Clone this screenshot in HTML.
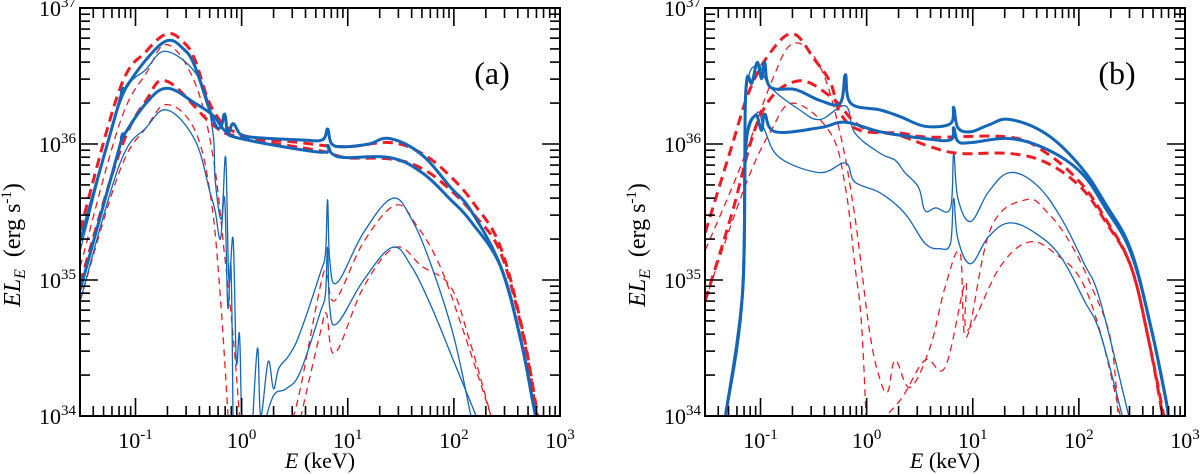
<!DOCTYPE html>
<html><head><meta charset="utf-8"><style>
html,body{margin:0;padding:0;background:#fff;}
svg{display:block;}
text{font-family:"Liberation Serif","Times New Roman",Times,serif;}
</style></head><body>
<svg id="fig" width="1200" height="474" viewBox="0 0 1200 474" xmlns="http://www.w3.org/2000/svg"></svg>
<script>
// ---- data: [log10 E(keV), log10 EL_E], null = gap ----
const xTickExps = [-1, 0, 1, 2, 3];
const yTickExps = [34, 35, 36, 37];
const xRange = [-1.523, 3];
const yRange = [34, 37];
const panelLabels = ["(a)", "(b)"];

const aThickBlueHi = [[-1.52,35.29],[-1.15,36.32],[-1.12,36.38],[-0.90,36.62],[-0.70,36.76],[-0.55,36.70],[-0.44,36.57],[-0.27,36.18],[-0.2,36.12],[-0.16,36.22],[-0.13,36.08],[-0.08,36.15],[-0.01,36.07],[0.1,36.05],[0.55,36.03],[0.76,36.03],[0.81,36.11],[0.85,36.00],[0.98,35.98],[1.20,36.00],[1.40,36.04],[1.70,35.92],[1.97,35.68],[2.16,35.51],[2.44,35.10],[2.63,34.56],[2.74,34.12],[2.77,34.0]];
const aThickBlueLo = [[-1.52,34.93],[-1.15,35.98],[-1.12,36.05],[-0.90,36.30],[-0.70,36.41],[-0.44,36.30],[-0.27,36.21],[-0.16,36.10],[-0.01,36.04],[0.74,35.94],[0.81,35.99],[0.85,35.93],[0.98,35.90],[1.40,35.90],[1.70,35.79],[1.97,35.59],[2.16,35.43],[2.44,35.10],[2.63,34.56],[2.74,34.12],[2.77,34.0]];
const aThickRedHi = [[-1.52,35.37],[-1.15,36.40],[-0.90,36.68],[-0.70,36.81],[-0.55,36.75],[-0.44,36.62],[-0.27,36.25],[-0.01,36.07],[0.55,36.01],[0.98,35.98],[1.40,36.01],[1.70,35.93],[1.97,35.76],[2.20,35.55],[2.44,35.24],[2.65,34.62],[2.79,34.0]];
const aThickRedLo = [[-1.52,34.98],[-1.15,35.94],[-0.90,36.32],[-0.70,36.46],[-0.27,36.14],[-0.01,36.05],[0.74,35.95],[0.98,35.90],[1.40,35.89],[1.70,35.82],[1.97,35.66],[2.20,35.47],[2.44,35.20],[2.65,34.60],[2.78,34.0]];
const aThinBlueHi = [[-1.52,35.22],[-1.15,36.29],[-0.90,36.55],[-0.70,36.68],[-0.39,36.47],[-0.27,36.08],[-0.25,35.74],[-0.19,35.45],[-0.15,35.9],[-0.12,35.0],[-0.08,35.3],[-0.05,34.4],[-0.02,34.6],[0.0,33.9],null,[0.1,33.9],[0.15,34.5],[0.18,34.0],[0.25,34.4],[0.3,34.2],[0.35,34.35],[0.45,34.45],[0.55,34.61],[0.74,35.05],[0.79,35.2],[0.81,35.59],[0.83,35.15],[0.90,34.98],[1.15,35.35],[1.42,35.60],[1.60,35.45],[1.79,35.10],[2.0,34.58],[2.16,34.0]];
const aThinBlueLo = [[-1.52,34.85],[-1.15,35.85],[-0.90,36.12],[-0.70,36.25],[-0.44,36.03],[-0.30,35.65],[-0.25,35.51],[-0.2,35.3],[-0.16,35.6],[-0.13,34.8],[-0.1,35.1],[-0.08,33.9],null,[0.2,33.9],[0.3,34.15],[0.42,34.2],[0.55,34.32],[0.74,34.76],[0.79,34.9],[0.81,35.24],[0.83,34.8],[0.90,34.68],[1.15,35.0],[1.42,35.24],[1.60,35.10],[1.79,34.80],[2.0,34.40],[2.21,34.0]];
const aThinRedHi = [[-1.52,35.10],[-1.15,36.15],[-0.90,36.52],[-0.70,36.73],[-0.44,36.45],[-0.27,35.91],[-0.16,35.18],[-0.08,34.59],[-0.01,33.9],null,[0.45,33.9],[0.55,34.19],[0.74,34.95],[0.80,35.05],[0.88,34.85],[1.15,35.28],[1.45,35.55],[1.65,35.40],[1.87,35.10],[2.1,34.6],[2.35,34.0]];
const aThinRedLo = [[-1.52,34.85],[-1.15,35.80],[-0.90,36.12],[-0.70,36.29],[-0.44,36.10],[-0.29,35.60],[-0.20,34.87],[-0.12,33.9],null,[0.53,33.9],[0.74,34.61],[0.80,34.75],[0.88,34.46],[1.15,34.95],[1.45,35.24],[1.70,35.10],[1.97,34.95],[2.15,34.55],[2.35,34.0]];

const bThickBlueHi = [[-1.33,34.0],[-1.17,34.90],[-1.14,36.36],[-1.08,36.45],[-1.03,36.60],[-0.99,36.48],[-0.96,36.60],[-0.91,36.42],[-0.67,36.40],[-0.44,36.32],[-0.25,36.30],[-0.20,36.51],[-0.15,36.30],[0.13,36.25],[0.32,36.20],[0.55,36.13],[0.79,36.15],[0.82,36.27],[0.86,36.12],[0.98,36.09],[1.15,36.14],[1.35,36.18],[1.70,36.07],[2.02,35.83],[2.25,35.56],[2.49,35.22],[2.68,34.65],[2.82,34.12],[2.84,34.0]];
const bThickBlueLo = [[-1.33,34.0],[-1.17,34.90],[-1.14,35.96],[-1.05,36.21],[-0.99,36.10],[-0.96,36.22],[-0.86,36.09],[-0.44,36.12],[-0.20,36.16],[0.13,36.09],[0.55,36.04],[0.79,36.03],[0.82,36.12],[0.86,36.02],[0.98,36.01],[1.35,36.04],[1.70,35.96],[2.02,35.79],[2.25,35.53],[2.49,35.20],[2.68,34.65],[2.82,34.12],[2.84,34.0]];
const bThickRedHi = [[-1.52,35.35],[-1.28,35.96],[-1.10,36.40],[-0.90,36.68],[-0.69,36.81],[-0.49,36.62],[-0.34,36.45],[-0.25,36.23],[-0.06,36.10],[0.32,36.08],[0.60,36.05],[1.35,36.05],[1.70,35.93],[2.02,35.71],[2.25,35.45],[2.49,35.10],[2.66,34.55],[2.79,34.0]];
const bThickRedLo = [[-1.52,34.85],[-1.28,35.46],[-1.00,36.21],[-0.67,36.46],[-0.34,36.35],[-0.06,36.13],[0.32,36.06],[0.60,35.98],[0.88,35.93],[1.35,35.93],[1.70,35.86],[2.02,35.68],[2.25,35.43],[2.49,35.10],[2.66,34.55],[2.80,34.0]];
const bThinBlueHi = [[-1.33,34.0],[-1.17,34.90],[-1.14,36.30],[-1.03,36.58],[-0.91,36.42],[-0.63,36.25],[-0.44,36.18],[-0.20,36.28],[-0.11,36.08],[0.13,35.93],[0.27,35.88],[0.36,35.79],[0.49,35.68],[0.55,35.51],[0.65,35.53],[0.79,35.53],[0.82,35.93],[0.86,35.60],[0.98,35.43],[1.15,35.65],[1.35,35.79],[1.60,35.70],[1.83,35.46],[2.05,35.12],[2.20,34.85],[2.47,34.0]];
const bThinBlueLo = [[-1.33,34.0],[-1.17,34.90],[-1.14,35.93],[-1.03,36.23],[-0.96,36.10],[-0.82,35.90],[-0.44,35.79],[-0.20,35.86],[-0.11,35.72],[0.13,35.64],[0.36,35.49],[0.55,35.27],[0.69,35.23],[0.79,35.27],[0.82,35.60],[0.86,35.30],[0.98,35.12],[1.15,35.32],[1.35,35.42],[1.60,35.34],[1.83,35.17],[2.05,34.85],[2.20,34.61],[2.41,34.0]];
const bThinRedHi = [[-1.52,35.22],[-1.19,35.83],[-0.90,36.45],[-0.69,36.74],[-0.44,36.57],[-0.25,36.08],[-0.11,35.46],[0.03,34.61],[0.13,34.26],[0.20,34.18],[0.27,34.41],[0.41,34.21],[0.60,34.51],[0.74,34.95],[0.88,35.20],[0.94,34.58],[1.17,35.38],[1.50,35.59],[1.70,35.50],[1.92,35.27],[2.12,34.95],[2.30,34.56],[2.37,34.0]];
const bThinRedLo = [[-1.52,34.85],[-1.15,35.68],[-0.90,36.10],[-0.69,36.30],[-0.34,36.08],[-0.20,35.68],[-0.11,35.10],[-0.05,34.70],[0.0,33.9],null,[0.05,33.9],[0.32,34.12],[0.55,34.41],[0.74,34.36],[0.93,34.98],[0.95,34.63],[1.26,35.10],[1.54,35.28],[1.80,35.18],[2.02,35.0],[2.20,34.62],[2.39,34.0]];

const BLUE = "#1466b8", RED = "#ee1c24";
const NS = "http://www.w3.org/2000/svg";
const svg = document.getElementById("fig");
function mk(tag, attrs, parent){
  const e = document.createElementNS(NS, tag);
  for (const k in attrs) e.setAttribute(k, attrs[k]);
  (parent||svg).appendChild(e); return e;
}
function smoothPath(pts){
  let d = "M" + pts[0][0].toFixed(1) + "," + pts[0][1].toFixed(1);
  const t = 0.18;
  for (let i = 0; i < pts.length - 1; i++) {
    const p0 = pts[Math.max(0,i-1)], p1 = pts[i], p2 = pts[i+1], p3 = pts[Math.min(pts.length-1,i+2)];
    const c1 = [p1[0] + (p2[0]-p0[0])*t, p1[1] + (p2[1]-p0[1])*t];
    const c2 = [p2[0] - (p3[0]-p1[0])*t, p2[1] - (p3[1]-p1[1])*t];
    d += "C" + c1[0].toFixed(1) + "," + c1[1].toFixed(1) + " " + c2[0].toFixed(1) + "," + c2[1].toFixed(1) + " " + p2[0].toFixed(1) + "," + p2[1].toFixed(1);
  }
  return d;
}

const panels = [
  {x0:80, y0:8, w:480, h:408, id:"a", curves:[
    [aThinRedHi,"red",false],[aThinRedLo,"red",false],[aThinBlueHi,"blue",false],[aThinBlueLo,"blue",false],
    [aThickRedHi,"red",true],[aThickRedLo,"red",true],[aThickBlueHi,"blue",true],[aThickBlueLo,"blue",true]]},
  {x0:705, y0:8, w:480, h:408, id:"b", curves:[
    [bThinRedHi,"red",false],[bThinRedLo,"red",false],[bThinBlueHi,"blue",false],[bThinBlueLo,"blue",false],
    [bThickRedHi,"red",true],[bThickRedLo,"red",true],[bThickBlueHi,"blue",true],[bThickBlueLo,"blue",true]]}
];

panels.forEach((p, pi) => {
  const X = lx => p.x0 + (lx - xRange[0]) / (xRange[1] - xRange[0]) * p.w;
  const Y = ly => p.y0 + (yRange[1] - ly) / (yRange[1] - yRange[0]) * p.h;
  const g = mk("g", {});
  
  
  const clip = mk("clipPath", {id:"clip"+p.id}, g);
  mk("rect", {x:p.x0, y:p.y0, width:p.w, height:p.h}, clip);
  const cg = mk("g", {"clip-path":"url(#clip"+p.id+")"}, g);
  p.curves.forEach((c, ci) => {
    const [data, col, thick] = c;
    let d = "", seg = [];
    const flush = () => { if (seg.length > 1) d += smoothPath(seg); seg = []; };
    data.forEach(pt => {
      if (!pt) { flush(); return; }
      seg.push([X(pt[0]), Y(pt[1])]);
    });
    flush();
    const attrs = {d:d, fill:"none", stroke: col==="red"?RED:BLUE, "stroke-width": thick?3:1.3, "stroke-linejoin":"round"};
    if (col === "red") attrs["stroke-dasharray"] = thick ? "10,6" : "7,5";
    const el = mk("path", attrs, cg);
    
    
  });
  const fr = mk("rect", {x:p.x0, y:p.y0, width:p.w, height:p.h, fill:"none", stroke:"#000", "stroke-width":2}, g);
  
  
  const tg = mk("g", {stroke:"#000", "stroke-width":1.6}, g);
  for (let e = Math.floor(xRange[0]); e < xRange[1]; e++) {
    for (let m = 1; m < 10; m++) {
      const lx = e + Math.log10(m);
      if (lx < xRange[0] || lx > xRange[1]) continue;
      const L = m === 1 ? 18 : 10, x = X(lx);
      mk("line", {x1:x, x2:x, y1:p.y0+p.h, y2:p.y0+p.h-L}, tg);
      mk("line", {x1:x, x2:x, y1:p.y0, y2:p.y0+L}, tg);
    }
  }
  for (let e = yRange[0]; e < yRange[1]; e++) {
    for (let m = 1; m < 10; m++) {
      const ly = e + Math.log10(m), L = m === 1 ? 18 : 10, y = Y(ly);
      mk("line", {x1:p.x0, x2:p.x0+L, y1:y, y2:y}, tg);
      mk("line", {x1:p.x0+p.w, x2:p.x0+p.w-L, y1:y, y2:y}, tg);
    }
  }
  xTickExps.forEach(e => {
    const t = mk("text", {x:X(e), y:p.y0+p.h+32, "text-anchor":"middle", "font-size":22}, g);
    
    
    t.appendChild(document.createTextNode("10"));
    const s = mk("tspan", {dy:-9, "font-size":15}, t); s.textContent = String(e);
  });
  yTickExps.forEach(e => {
    const t = mk("text", {x:p.x0-4, y:Y(e)+8, "text-anchor":"end", "font-size":22}, g);
    
    
    t.appendChild(document.createTextNode("10"));
    const s = mk("tspan", {dy:-9, "font-size":15}, t); s.textContent = e;
  });
  const xt = mk("text", {x:p.x0+p.w/2, y:468, "text-anchor":"middle", "font-size":22}, g);
  
  
  const xi = mk("tspan", {"font-style":"italic"}, xt); xi.textContent = "E";
  xt.appendChild(document.createTextNode(" (keV)"));
  const cy = 245, cx = p.x0 - 60;
  const yt = mk("text", {x:cx, y:cy, "text-anchor":"middle", "font-size":24, transform:"rotate(-90 "+cx+" "+cy+")"}, g);
  
  
  const y1 = mk("tspan", {"font-style":"italic"}, yt); y1.textContent = "EL";
  const y2 = mk("tspan", {"font-style":"italic", "font-size":16, dy:5}, yt); y2.textContent = "E";
  const y3 = mk("tspan", {dy:-5}, yt); y3.textContent = "\u00a0 (erg s";
  const y4 = mk("tspan", {"font-size":15, dy:-9}, yt); y4.textContent = "-1";
  const y5 = mk("tspan", {dy:9}, yt); y5.textContent = ")";
  const pl = mk("text", {x:p.x0+p.w-68, y:84, "text-anchor":"middle", "font-size":32}, g);
  
  
  pl.textContent = panelLabels[pi];
});
</script>
</body></html>
